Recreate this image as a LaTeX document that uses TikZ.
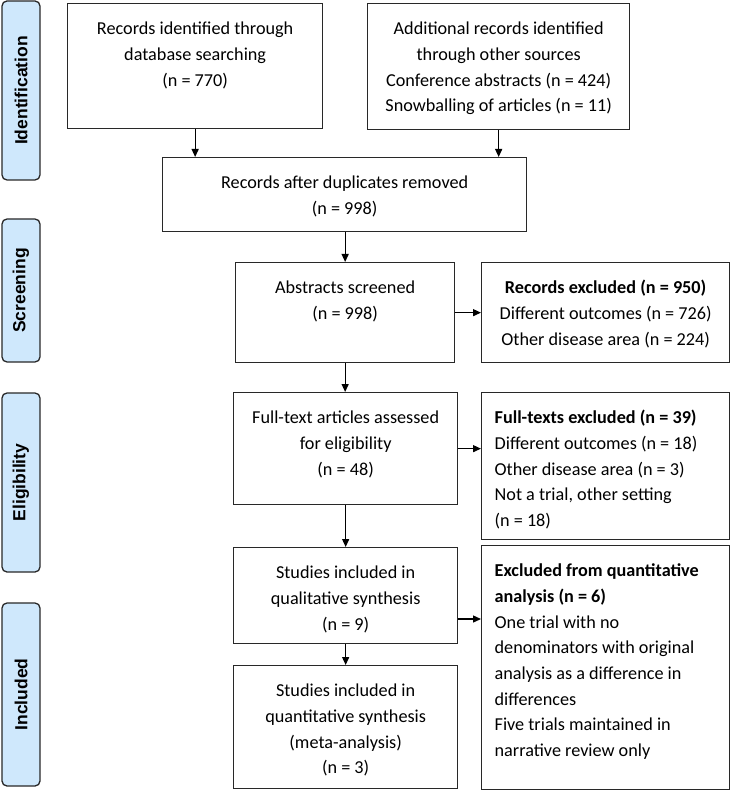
\documentclass[tikz,border=0pt]{standalone}
\usepackage{fontspec}
\setmainfont{Carlito}
\newfontfamily\sidefont{Liberation Sans}
\usetikzlibrary{arrows.meta}
\definecolor{sideblue}{RGB}{207,232,252}
\definecolor{edge}{RGB}{40,40,40}
\newcommand\boxc[3]{\parbox[t][#2pt][t]{#1pt}{\centering\rule{0pt}{31pt}#3\par}}
\newcommand\boxl[3]{\parbox[t][#2pt][t]{#1pt}{\raggedright\leftskip=13pt\rule{0pt}{31pt}#3\par}}
\tikzset{
  flowbox/.style={draw=edge, line width=1.3pt, inner sep=0pt, anchor=north west,
    font=\fontsize{18.2pt}{25.7pt}\selectfont},
  sidebox/.style={draw=edge, line width=1.3pt, fill=sideblue, rounded corners=5pt,
    rotate=90, inner sep=0pt, minimum height=38pt,
    font=\sidefont\bfseries\fontsize{17.5pt}{20pt}\selectfont},
  arr/.style={draw=black, line width=1.3pt, -{Triangle[length=8pt,width=7pt]}}
}
\begin{document}
\begin{tikzpicture}[x=1pt,y=-1pt]
\useasboundingbox (0,0) rectangle (732,791);
% side labels
\node[sidebox, minimum width=179pt] (s1) at (21,90.5) {Identification};
\node[sidebox, minimum width=143pt] (s2) at (21,290.5) {Screening};
\node[sidebox, minimum width=179pt] (s3) at (21,482.5) {Eligibility};
\node[sidebox, minimum width=183pt] (s4) at (21,694.5) {Included};
% main boxes
\node[flowbox] (A) at (67,3) {\boxc{255}{125}{Records identified through\\database searching\\(n = 770)}};
\node[flowbox] (B) at (367,3) {\boxc{262}{126}{Additional records identified\\through other sources\\Conference abstracts (n = 424)\\Snowballing of articles (n = 11)}};
\node[flowbox] (C) at (162,157) {\boxc{364}{74}{Records after duplicates removed\\(n = 998)}};
\node[flowbox] (D) at (235,262) {\boxc{219}{100}{Abstracts screened\\(n = 998)}};
\node[flowbox] (E) at (233,392) {\boxc{224}{112}{Full-text articles assessed\\for eligibility\\(n = 48)}};
\node[flowbox] (F) at (233,547) {\boxc{224}{96}{Studies included in\\qualitative synthesis\\(n = 9)}};
\node[flowbox] (G) at (233,665) {\boxc{224}{123}{Studies included in\\quantitative synthesis\\(meta-analysis)\\(n = 3)}};
% exclusion boxes
\node[flowbox] (R1) at (481,262) {\boxc{248}{100}{\textbf{Records excluded (n = 950)}\\Different outcomes (n = 726)\\Other disease area (n = 224)}};
\node[flowbox] (R2) at (481,392) {\boxl{248}{147}{\textbf{Full-texts excluded (n = 39)}\\Different outcomes (n = 18)\\Other disease area (n = 3)\\Not a trial, other setting\\(n = 18)}};
\node[flowbox] (R3) at (481,545) {\boxl{248}{244}{\textbf{Excluded from quantitative}\\\textbf{analysis (n = 6)}\\One trial with no\\denominators with original\\analysis as a difference in\\differences\\Five trials maintained in\\narrative review only}};
\coordinate (r3in) at (481,619);
% connectors
\draw[arr] (A.south) -- (A.south |- C.north);
\draw[arr] (B.south) -- (B.south |- C.north);
\draw[arr] (D.north |- C.south) -- (D.north);
\draw[arr] (D.south) -- (D.south |- E.north);
\draw[arr] (E.south) -- (E.south |- F.north);
\draw[arr] (F.south) -- (F.south |- G.north);
\draw[arr] (D.east) -- (D.east -| R1.west);
\draw[arr] (E.east) -- (E.east -| R2.west);
\draw[arr] (F.east |- r3in) -- (r3in);
\end{tikzpicture}
\end{document}
